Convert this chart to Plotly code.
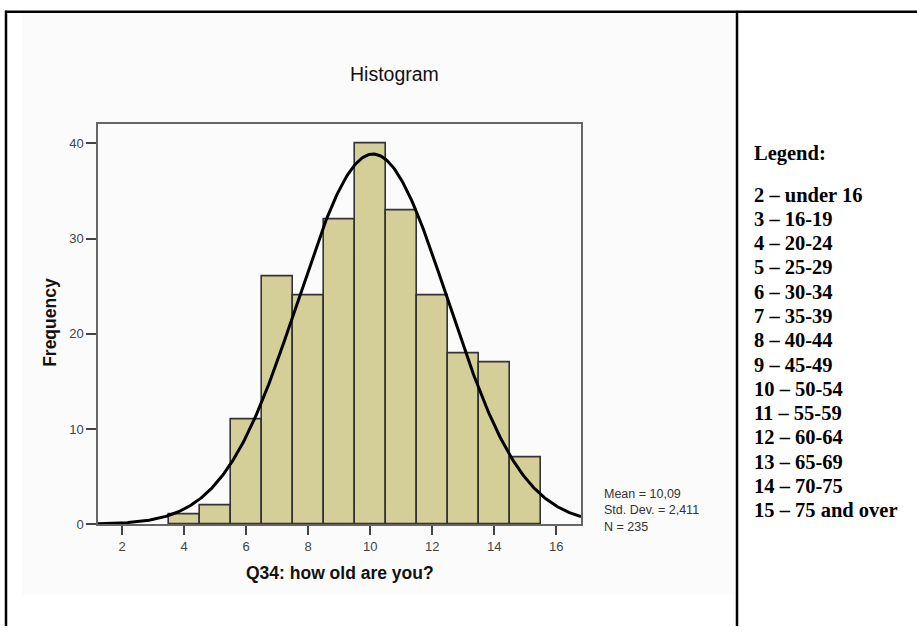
import numpy as np
import plotly.graph_objects as go

# ---- data ----
categories = [4, 5, 6, 7, 8, 9, 10, 11, 12, 13, 14, 15]
frequencies = [1, 2, 11, 26, 24, 32, 40, 33, 24, 18, 17, 7]
MEAN = 10.09
STD = 2.411
N = 235
x_ticks = [2, 4, 6, 8, 10, 12, 14, 16]
y_ticks = [0, 10, 20, 30, 40]
legend_lines = ["2 – under 16", "3 – 16-19", "4 – 20-24", "5 – 25-29", "6 – 30-34",
                "7 – 35-39", "8 – 40-44", "9 – 45-49", "10 – 50-54", "11 – 55-59",
                "12 – 60-64", "13 – 65-69", "14 – 70-75", "15 – 75 and over"]

W, H = 917, 634
X_RANGE = [1.22, 16.8]

# Normal curve from stated mean / sd / N (bin width 1)
xc = np.linspace(X_RANGE[0], X_RANGE[1], 400)
yc = N * 1.0 / (STD * np.sqrt(2 * np.pi)) * np.exp(-0.5 * ((xc - MEAN) / STD) ** 2)

fig = go.Figure()
fig.add_trace(go.Bar(
    x=categories, y=frequencies, width=1,
    marker=dict(color="#d4cf99", line=dict(color="#333333", width=1.6)),
    showlegend=False, hoverinfo="x+y"))
fig.add_trace(go.Scatter(
    x=xc, y=yc, mode="lines", line=dict(color="#000000", width=3),
    showlegend=False, hoverinfo="skip"))

def px(x):
    return x / W

def py(y):
    return 1 - y / H

font_sans = "Liberation Sans, Arial, sans-serif"
font_serif = "Liberation Serif, Times New Roman, serif"

shapes = [
    # chart image background
    dict(type="rect", xref="paper", yref="paper", x0=px(22), x1=px(735), y0=py(602), y1=py(13),
         fillcolor="#fbfbfb", line=dict(width=0), layer="below"),
    # table borders
    dict(type="line", xref="paper", yref="paper", x0=px(5), x1=px(917), y0=py(12), y1=py(12),
         line=dict(color="#000", width=2.5)),
    dict(type="line", xref="paper", yref="paper", x0=px(6), x1=px(6), y0=py(11), y1=py(634),
         line=dict(color="#000", width=2.5)),
    dict(type="line", xref="paper", yref="paper", x0=px(737), x1=px(737), y0=py(11), y1=py(634),
         line=dict(color="#000", width=2.5)),
]

annotations = [
    dict(text="Histogram", xref="paper", yref="paper", x=px(394), y=py(75),
         showarrow=False, font=dict(family=font_sans, size=19.5, color="#111"),
         xanchor="center", yanchor="middle"),
    dict(text="Mean = 10,09<br>Std. Dev. = 2,411<br>N = 235", xref="paper", yref="paper",
         x=px(602), y=py(517), showarrow=False, align="left",
         font=dict(family=font_sans, size=12.5, color="#333"),
         xanchor="left", yanchor="middle"),
    dict(text="<b>Legend:</b>", xref="paper", yref="paper", x=px(752), y=py(155),
         showarrow=False, font=dict(family=font_serif, size=20.5, color="#000"),
         xanchor="left", yanchor="middle"),
]
for i, t in enumerate(legend_lines):
    annotations.append(dict(
        text="<b>" + t + "</b>", xref="paper", yref="paper", x=px(752), y=py(197 + i * 24.6),
        showarrow=False, font=dict(family=font_serif, size=20.5, color="#000"),
        xanchor="left", yanchor="middle"))

# axis titles as annotations for exact placement
annotations.append(dict(
    text="<b>Q34: how old are you?</b>", xref="paper", yref="paper", x=px(340), y=py(580),
    showarrow=False, font=dict(family=font_sans, size=17.5, color="#111"),
    xanchor="center", yanchor="middle"))
annotations.append(dict(
    text="<b>Frequency</b>", xref="paper", yref="paper", x=px(50), y=py(327), textangle=-90,
    showarrow=False, font=dict(family=font_sans, size=17.5, color="#111"),
    xanchor="center", yanchor="middle"))

fig.update_layout(
    width=W, height=H,
    margin=dict(l=0, r=0, t=0, b=0),
    paper_bgcolor="#ffffff",
    plot_bgcolor="#f0f0f0",
    bargap=0,
    shapes=shapes,
    annotations=annotations,
    xaxis=dict(
        domain=[px(98), px(581)], range=X_RANGE, tickvals=x_ticks,
        ticks="outside", ticklen=9, tickwidth=1.5, tickcolor="#444",
        showline=True, linecolor="#666", linewidth=1.5, mirror=True,
        showgrid=False, zeroline=False,
        tickfont=dict(family=font_sans, size=13, color="#444"),
    ),
    yaxis=dict(
        domain=[py(531), py(126)], range=[0, 42], tickvals=y_ticks,
        ticks="outside", ticklen=10, tickwidth=1.5, tickcolor="#444",
        showline=True, linecolor="#666", linewidth=1.5, mirror=True,
        showgrid=False, zeroline=False,
        tickfont=dict(family=font_sans, size=13, color="#444"),
    ),
)

fig.write_html("out.html", config={"displayModeBar": False},
               post_script="document.body.style.margin='0';document.body.style.overflow='hidden';")
